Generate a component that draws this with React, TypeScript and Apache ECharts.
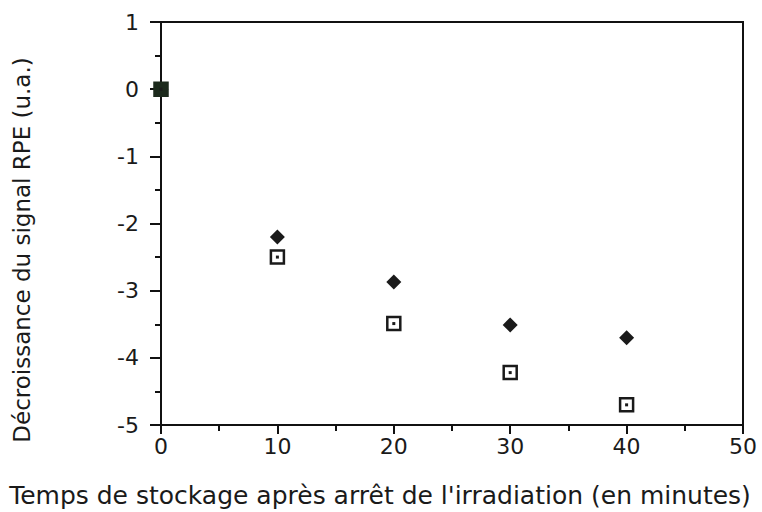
import React, { useEffect, useRef } from "react";
import * as echarts from "echarts";

const times = [0, 10, 20, 30, 40];
const seriesDiamond = [0, -2.2, -2.87, -3.51, -3.7];
const seriesSquare = [0, -2.5, -3.49, -4.22, -4.7];

const xTitle = "Temps de stockage après arrêt de l'irradiation (en minutes)";
const yTitle = "Décroissance du signal RPE (u.a.)";

export default function App() {
  const ref = useRef<HTMLDivElement>(null);
  useEffect(() => {
    if (!ref.current) return;
    const chart = echarts.init(ref.current, null, { renderer: "svg" });
    const font = "DejaVu Sans";
    const pairs = (ys: number[]) => times.map((t, i) => [t, ys[i]]);
    chart.setOption({
      animation: false,
      backgroundColor: "#fff",
      grid: {
        left: 161,
        right: 19,
        top: 22,
        bottom: 87,
        show: true,
        borderColor: "#111",
        borderWidth: 2,
        containLabel: false,
      },
      graphic: [
        {
          type: "text",
          x: 380,
          y: 495,
          style: {
            text: xTitle,
            font: `25px "${font}"`,
            fill: "#1a1a1a",
            align: "center",
            verticalAlign: "middle",
          },
        },
        {
          type: "text",
          x: 22,
          y: 250,
          rotation: Math.PI / 2,
          style: {
            text: yTitle,
            font: `23px "${font}"`,
            fill: "#1a1a1a",
            align: "center",
            verticalAlign: "middle",
          },
        },
      ],
      xAxis: {
        type: "value",
        min: 0,
        max: 50,
        interval: 10,
        axisLine: { show: true, onZero: false, lineStyle: { color: "#111", width: 2 } },
        axisTick: { show: true, inside: false, length: 9, lineStyle: { color: "#111", width: 2 } },
        minorTick: { show: true, splitNumber: 2, length: 6, lineStyle: { color: "#111", width: 2 } },
        splitLine: { show: false },
        axisLabel: { fontFamily: font, fontSize: 22, color: "#1a1a1a", margin: 10 },
      },
      yAxis: {
        type: "value",
        min: -5,
        max: 1,
        interval: 1,
        axisLine: { show: true, onZero: false, lineStyle: { color: "#111", width: 2 } },
        axisTick: { show: true, inside: false, length: 11, lineStyle: { color: "#111", width: 2 } },
        minorTick: { show: true, splitNumber: 2, length: 6, lineStyle: { color: "#111", width: 2 } },
        splitLine: { show: false },
        axisLabel: { fontFamily: font, fontSize: 22, color: "#1a1a1a", margin: 22 },
      },
      series: [
        {
          type: "scatter",
          symbol: "diamond",
          symbolSize: 15,
          data: pairs(seriesDiamond),
          itemStyle: { color: "#1a1a1a", opacity: 1 },
          z: 2,
        },
        {
          type: "scatter",
          symbol: "rect",
          symbolSize: 13,
          data: pairs(seriesSquare).map((p, i) =>
            i === 0
              ? { value: p, itemStyle: { color: "#1c2a1c", borderColor: "#1c2a1c" } }
              : { value: p }
          ),
          itemStyle: { color: "#fff", borderColor: "#1a1a1a", borderWidth: 2.5, opacity: 1 },
          z: 3,
        },
        {
          type: "scatter",
          symbol: "rect",
          symbolSize: 3,
          data: pairs(seriesSquare),
          itemStyle: { color: "#1a1a1a", opacity: 1 },
          z: 4,
          silent: true,
        },
      ],
    });
    return () => chart.dispose();
  }, []);
  return <div ref={ref} style={{ width: 762, height: 512, position: "fixed", left: 0, top: 0 }} />;
}
